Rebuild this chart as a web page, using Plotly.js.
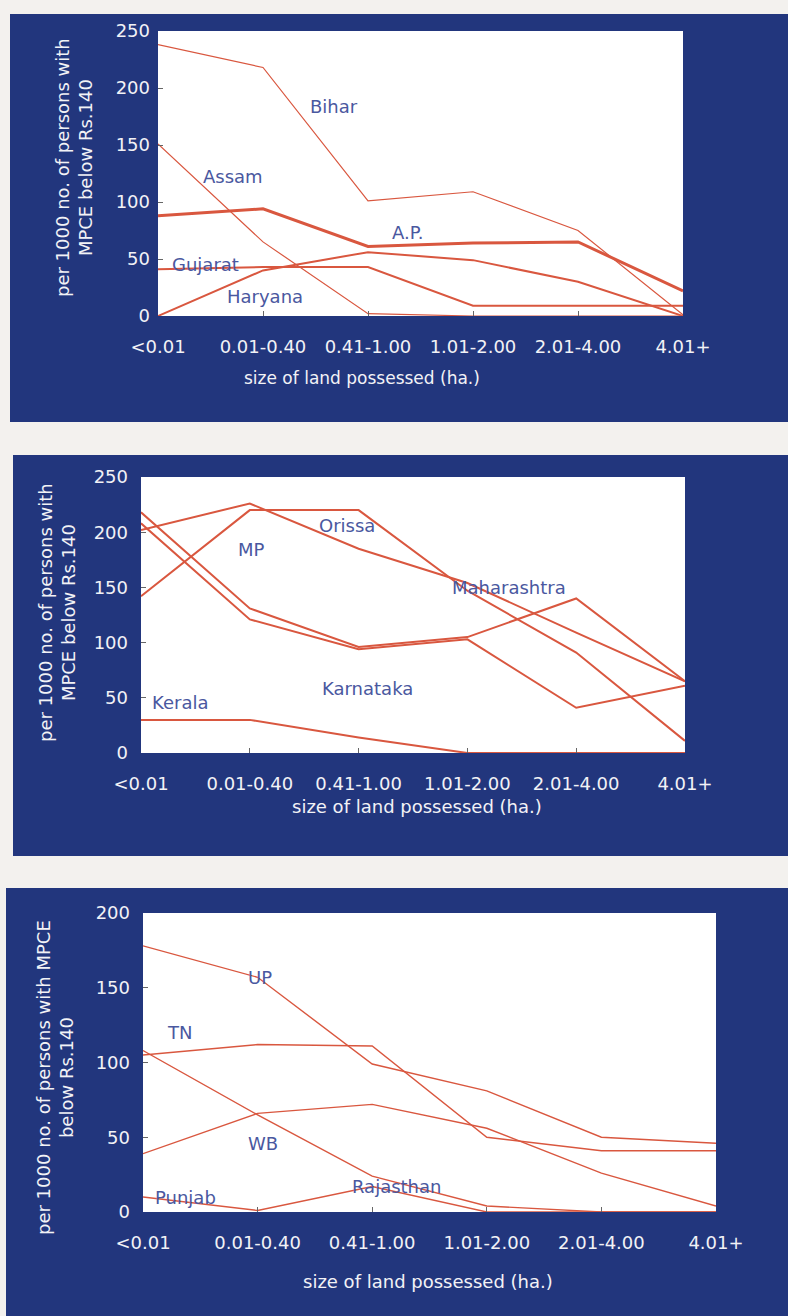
<!DOCTYPE html>
<html><head><meta charset="utf-8">
<script src="https://cdn.plot.ly/plotly-3.0.1.min.js"></script>
<style>html,body{margin:0;padding:0;background:#f3f1ee;} #chart{width:788px;height:1316px;}</style>
</head><body><div id="chart"></div>
<script>
// ---- data ----
const categories = ["<0.01", "0.01-0.40", "0.41-1.00", "1.01-2.00", "2.01-4.00", "4.01+"];

// Panel 1
const bihar   = [238, 218, 101, 109, 75, 1];
const assam   = [151, 65, 2, 0, 0, 0];
const ap      = [88, 94, 61, 64, 65, 22];
const gujarat = [41, 43, 43, 9, 9, 9];
const haryana = [0, 40, 56, 49, 30, 0];

// Panel 2
const mp          = [202, 226, 185, 154, 109, 65];
const orissa      = [142, 220, 220, 147, 91, 11];
const maharashtra = [218, 131, 96, 105, 140, 65];
const karnataka   = [208, 121, 94, 103, 41, 61];
const kerala      = [30, 30, 14, 0, 0, 0];

// Panel 3
const up        = [178, 157, 99, 81, 50, 46];
const tn        = [105, 112, 111, 50, 41, 41];
const wb        = [108, 65, 24, 4, 0, 0];
const rajasthan = [39, 66, 72, 56, 26, 4];
const punjab    = [10, 1, 17, 0, 0, 0];

const yTicks250 = [0, 50, 100, 150, 200, 250];
const yTicks200 = [0, 50, 100, 150, 200];

const xTitle = "size of land possessed (ha.)";
const yTitleA = "per 1000 no. of persons with<br>MPCE below Rs.140";
const yTitleB = "per 1000 no. of persons with MPCE<br>below Rs.140";

// state labels: [text, category position, value]
const labels1 = [["Bihar", 1.68, 184], ["Assam", 0.71, 122], ["A.P.", 2.38, 73], ["Gujarat", 0.45, 45], ["Haryana", 1.02, 17]];
const labels2 = [["Orissa", 1.89, 206], ["MP", 1.02, 184], ["Maharashtra", 3.38, 150], ["Karnataka", 2.08, 58], ["Kerala", 0.36, 46]];
const labels3 = [["UP", 1.02, 157], ["TN", 0.32, 120], ["WB", 1.05, 46], ["Punjab", 0.37, 10], ["Rajasthan", 2.21, 17]];

// ---- styling ----
const W = 788, H = 1316;
const RED = "#d9573f";
const BLUE = "#22367d";
const LABEL = "#4a58a0";
const FONT = "DejaVu Sans";
const fx = p => p / W;
const fy = p => 1 - p / H;

function line(y, ax, width) {
  return { x: categories, y: y, xaxis: "x" + ax, yaxis: "y" + ax, mode: "lines",
    line: { color: RED, width: width }, hoverinfo: "skip", showlegend: false };
}
const a1 = "", a2 = "2", a3 = "3";
const data = [
  line(bihar, a1, 1.2), line(assam, a1, 1.2), line(ap, a1, 3), line(gujarat, a1, 2), line(haryana, a1, 2),
  line(mp, a2, 2), line(orissa, a2, 2), line(maharashtra, a2, 2), line(karnataka, a2, 2), line(kerala, a2, 2),
  line(up, a3, 1.4), line(tn, a3, 1.4), line(wb, a3, 1.4), line(rajasthan, a3, 1.4), line(punjab, a3, 1.4)
];

function xaxis(l, r, yname, standoff) {
  return { domain: [fx(l), fx(r)], anchor: yname, type: "category", categoryorder: "array",
    categoryarray: categories, range: [0, 5], ticks: "inside", ticklen: 5, tickcolor: "#666",
    tickfont: { family: FONT, size: 18, color: "#f2f2f6" }, ticklabelstandoff: standoff,
    showgrid: false, zeroline: false, showline: false, fixedrange: true };
}
function yaxis(top, bottom, xname, max, ticks, standoff) {
  return { domain: [fy(bottom), fy(top)], anchor: xname, range: [0, max], tickvals: ticks,
    ticks: "inside", ticklen: 5, tickcolor: "#666",
    tickfont: { family: FONT, size: 18, color: "#f2f2f6" }, ticklabelstandoff: standoff,
    showgrid: false, zeroline: false, showline: false, fixedrange: true };
}

const shapes = [
  { type: "rect", xref: "paper", yref: "paper", x0: fx(10), x1: 1, y0: fy(422), y1: fy(14), fillcolor: BLUE, line: { width: 0 }, layer: "below" },
  { type: "rect", xref: "paper", yref: "paper", x0: fx(13), x1: 1, y0: fy(856), y1: fy(455), fillcolor: BLUE, line: { width: 0 }, layer: "below" },
  { type: "rect", xref: "paper", yref: "paper", x0: fx(6), x1: 1, y0: 0, y1: fy(888), fillcolor: BLUE, line: { width: 0 }, layer: "below" }
];
["", "2", "3"].forEach(s => shapes.push({ type: "rect", xref: "x" + s + " domain", yref: "y" + s + " domain",
  x0: 0, x1: 1, y0: 0, y1: 1, fillcolor: "#ffffff", line: { width: 0 }, layer: "below" }));

const annotations = [];
function addLabels(list, s) {
  list.forEach(([t, x, y]) => annotations.push({ text: t, x: x, y: y, xref: "x" + s, yref: "y" + s,
    showarrow: false, xanchor: "center", yanchor: "middle", font: { family: FONT, size: 18, color: LABEL } }));
}
addLabels(labels1, ""); addLabels(labels2, "2"); addLabels(labels3, "3");
function title(t, x, y, size, angle) {
  annotations.push({ text: t, x: fx(x), y: fy(y), xref: "paper", yref: "paper", showarrow: false,
    xanchor: "center", yanchor: "middle", textangle: angle,
    font: { family: FONT, size: size, color: "#f2f2f6" } });
}
title(xTitle, 362, 378, 17, 0);
title(xTitle, 417, 806, 18, 0);
title(xTitle, 428, 1281, 18, 0);
title(yTitleA, 74, 168, 18, -90);
title(yTitleA, 57, 613, 18, -90);
title(yTitleB, 55, 1078, 18, -90);

const layout = {
  width: W, height: H, margin: { l: 0, r: 0, t: 0, b: 0 },
  paper_bgcolor: "#f3f1ee", plot_bgcolor: "rgba(0,0,0,0)", showlegend: false,
  font: { family: FONT },
  xaxis: xaxis(158, 683, "y", 18),
  yaxis: yaxis(31, 316, "x", 250, yTicks250, 7),
  xaxis2: xaxis(141, 685, "y2", 18),
  yaxis2: yaxis(477, 753, "x2", 250, yTicks250, 12),
  xaxis3: xaxis(143, 716, "y3", 18),
  yaxis3: yaxis(913, 1212, "x3", 200, yTicks200, 12),
  shapes: shapes, annotations: annotations
};
Plotly.newPlot("chart", data, layout, { staticPlot: true, displayModeBar: false });
</script></body></html>
